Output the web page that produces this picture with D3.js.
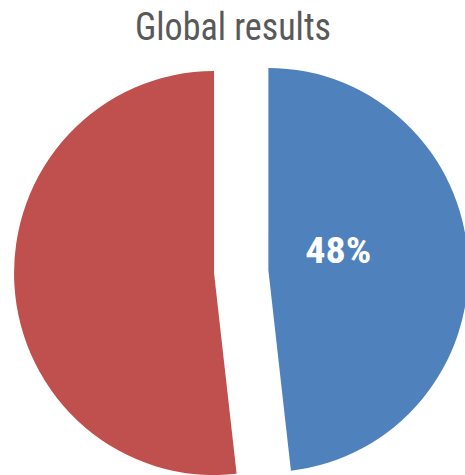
<!DOCTYPE html>
<html>
<head>
<meta charset="utf-8">
<script src="https://cdn.jsdelivr.net/npm/d3@7"></script>
<style>
  html, body { margin: 0; padding: 0; background: #fff; }
  svg { display: block; }
</style>
</head>
<body>
<svg id="chart" width="465" height="475"></svg>
<script>
const title = "Global results";
const categories = ["Group A", "Group B"];
const values = [48.2, 51.8];
const colors = ["#4F81BD", "#C0504D"];
const showLabel = [true, false];

const W = 465, H = 475;
const svg = d3.select("#chart");

const cx = 241.2, cy = 271.5, r = 200, explode = 27.2;

svg.append("text")
  .attr("x", 233).attr("y", 40)
  .attr("text-anchor", "middle")
  .attr("fill", "#595959")
  .style("font-family", "'Liberation Sans Narrow', 'Roboto', sans-serif")
  .style("font-stretch", "condensed")
  .style("font-size", "38.5px")
  .attr("textLength", 196)
  .attr("lengthAdjust", "spacingAndGlyphs")
  .text(title);

const data = categories.map((c, i) => ({ name: c, value: values[i], color: colors[i], label: showLabel[i] }));
const pie = d3.pie().value(d => d.value).sort(null);
const arcs = pie(data);
const arc = d3.arc().innerRadius(0).outerRadius(r);
const labelArc = d3.arc().innerRadius(0).outerRadius(r * 0.7);

const g = svg.append("g").attr("transform", `translate(${cx},${cy}) scale(1,1.01)`);

arcs.forEach(a => {
  const mid = (a.startAngle + a.endAngle) / 2;
  const ox = explode * Math.sin(mid), oy = -explode * Math.cos(mid);
  const sg = g.append("g").attr("transform", `translate(${ox},${oy})`);
  sg.append("path").attr("d", arc(a)).attr("fill", a.data.color);
  if (a.data.label) {
    const [lx, ly] = labelArc.centroid(a);
    sg.append("text")
      .attr("x", lx).attr("y", ly - 3)
      .attr("text-anchor", "middle")
      .attr("fill", "#fff")
      .style("font-family", "'Liberation Sans Narrow', 'Roboto', sans-serif")
      .style("font-stretch", "condensed")
      .style("font-weight", "bold")
      .style("font-size", "37px")
      .attr("textLength", 66)
      .attr("lengthAdjust", "spacingAndGlyphs")
      .text(Math.round(a.data.value) + "%");
  }
});
</script>
</body>
</html>
